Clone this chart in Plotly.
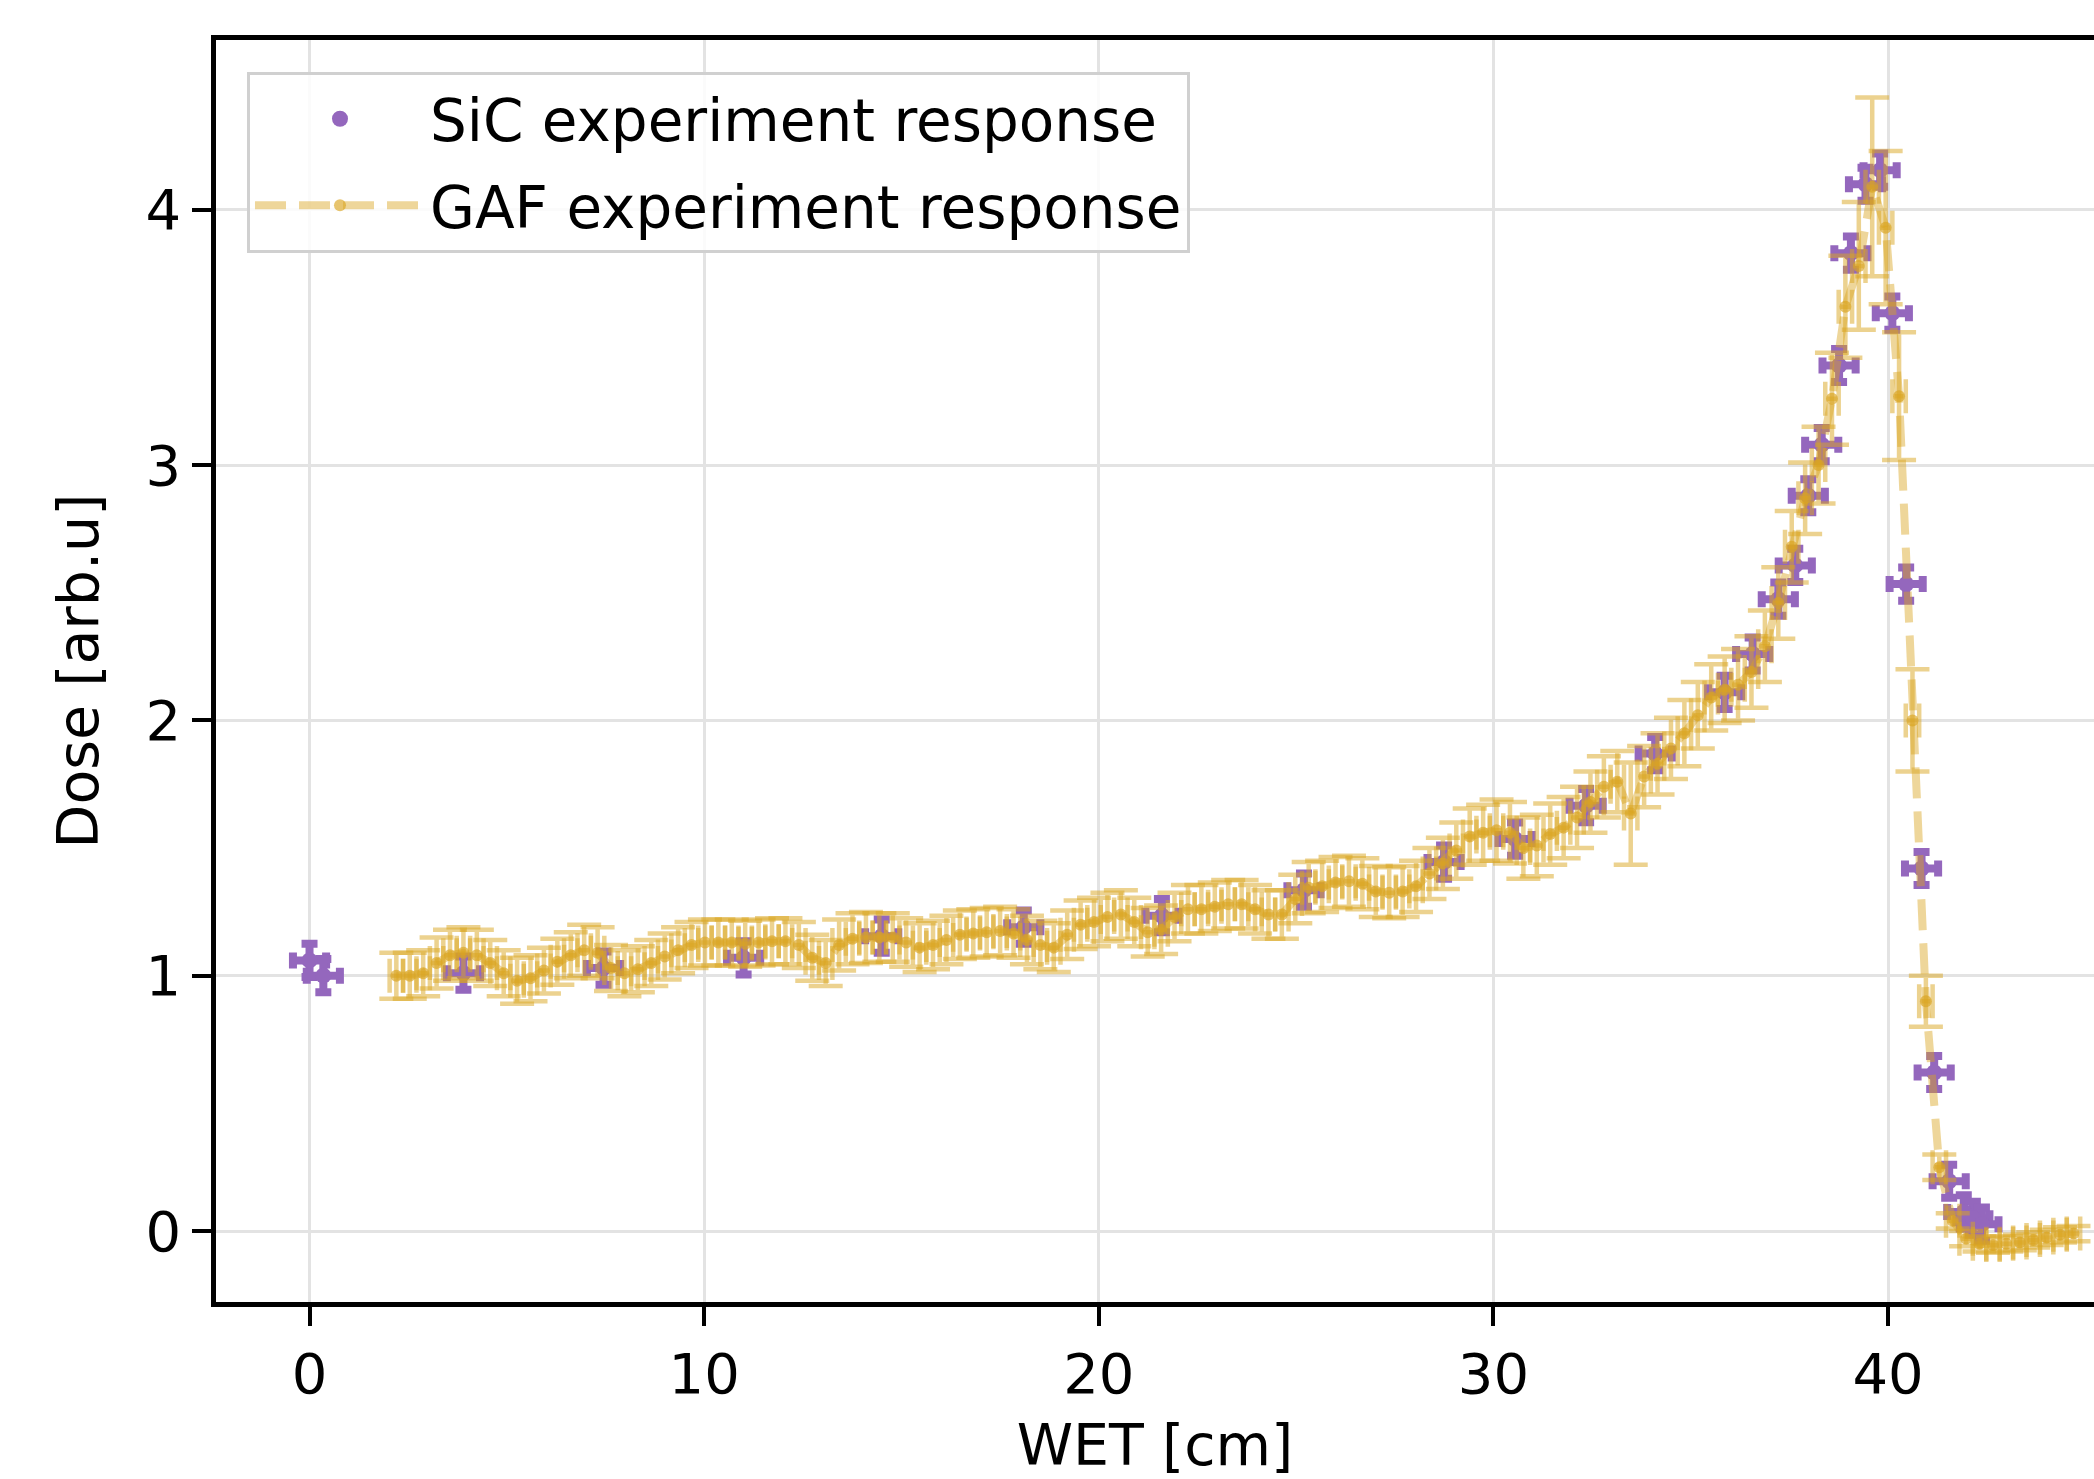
import plotly.graph_objects as go

# ---------------- data ----------------
sic_x = [0.0, 0.35, 3.9, 7.45, 11.0, 14.5, 18.1, 21.6, 25.2, 28.75, 30.55, 32.35,
         34.1, 35.86, 36.57, 37.22, 37.65, 37.98, 38.32, 38.76, 39.06, 39.43, 39.8,
         40.11, 40.46, 40.85, 41.17, 41.55, 41.92, 42.15, 42.38]
sic_y = [1.06, 1.00, 1.01, 1.03, 1.07, 1.155, 1.19, 1.235, 1.335, 1.445, 1.535, 1.666,
         1.87, 2.11, 2.26, 2.475, 2.607, 2.88, 3.08, 3.39, 3.83, 4.10, 4.155,
         3.595, 2.534, 1.42, 0.621, 0.195, 0.075, 0.05, 0.027]
sic_xerr = [0.42] * len(sic_x)
sic_yerr = [0.065] * len(sic_x)

gaf_x = [2.20, 2.54, 2.88, 3.22, 3.56, 3.90, 4.24, 4.58, 4.92, 5.26, 5.60, 5.94, 6.28,
         6.62, 6.96, 7.30, 7.64, 7.98, 8.32, 8.66, 9.00, 9.34, 9.68, 10.02, 10.36,
         10.70, 11.04, 11.38, 11.72, 12.06, 12.40, 12.74, 13.08, 13.42, 13.76, 14.10,
         14.44, 14.78, 15.12, 15.46, 15.80, 16.14, 16.48, 16.82, 17.16, 17.50, 17.84,
         18.18, 18.52, 18.86, 19.20, 19.54, 19.88, 20.22, 20.56, 20.90, 21.24, 21.58,
         21.92, 22.26, 22.60, 22.94, 23.28, 23.62, 23.96, 24.30, 24.64, 24.98, 25.32,
         25.66, 26.00, 26.34, 26.68, 27.02, 27.36, 27.70, 28.04, 28.38, 28.72, 29.06,
         29.40, 29.74, 30.08, 30.42, 30.76, 31.10, 31.44, 31.78, 32.12, 32.46, 32.80,
         33.14, 33.48, 33.82, 34.16, 34.50, 34.84, 35.18, 35.52, 35.86, 36.20, 36.54,
         36.88, 37.22, 37.56, 37.90, 38.24, 38.58, 38.92, 39.26, 39.60, 39.94, 40.28,
         40.62, 40.96, 41.30, 41.64, 41.98, 42.32, 42.66, 43.00, 43.34, 43.68, 44.02,
         44.36, 44.70]
gaf_y = [1.00, 1.00, 1.01, 1.05, 1.08, 1.09, 1.08, 1.05, 1.01, 0.98, 0.99, 1.02, 1.055,
         1.08, 1.10, 1.09, 1.03, 1.01, 1.025, 1.05, 1.075, 1.10, 1.12, 1.13, 1.13,
         1.13, 1.125, 1.13, 1.135, 1.135, 1.12, 1.07, 1.05, 1.12, 1.145, 1.15,
         1.15, 1.15, 1.13, 1.11, 1.12, 1.14, 1.16, 1.165, 1.17, 1.175, 1.165,
         1.14, 1.12, 1.11, 1.16, 1.20, 1.21, 1.23, 1.24, 1.21, 1.17, 1.18,
         1.23, 1.26, 1.26, 1.27, 1.28, 1.28, 1.26, 1.24, 1.24, 1.30, 1.345,
         1.35, 1.365, 1.37, 1.36, 1.33, 1.325, 1.33, 1.35, 1.40, 1.44, 1.49,
         1.545, 1.56, 1.57, 1.56, 1.50, 1.51, 1.555, 1.58, 1.62, 1.68, 1.74,
         1.76, 1.635, 1.78, 1.83, 1.89, 1.95, 2.02, 2.09, 2.12, 2.14, 2.19,
         2.29, 2.46, 2.68, 2.87, 3.00, 3.26, 3.62, 3.78, 4.09, 3.93, 3.27,
         2.00, 0.90, 0.25, 0.04, -0.03, -0.05, -0.055, -0.05, -0.045, -0.035, -0.025,
         -0.015, -0.01]
gaf_yerr = [0.09, 0.09, 0.09, 0.10, 0.10, 0.10, 0.10, 0.09, 0.09, 0.09, 0.09, 0.09, 0.09,
            0.09, 0.10, 0.10, 0.09, 0.09, 0.09, 0.09, 0.09, 0.09, 0.09, 0.09, 0.09,
            0.09, 0.09, 0.09, 0.09, 0.09, 0.09, 0.09, 0.09, 0.10, 0.10, 0.10,
            0.095, 0.095, 0.095, 0.095, 0.095, 0.095, 0.095, 0.095, 0.095, 0.095, 0.095,
            0.095, 0.095, 0.095, 0.095, 0.095, 0.095, 0.095, 0.095, 0.095, 0.095, 0.095,
            0.095, 0.095, 0.095, 0.095, 0.095, 0.095, 0.095, 0.095, 0.095, 0.095, 0.10,
            0.10, 0.10, 0.10, 0.10, 0.10, 0.10, 0.10, 0.10, 0.10, 0.10, 0.11,
            0.11, 0.11, 0.12, 0.12, 0.12, 0.12, 0.12, 0.12, 0.12, 0.12, 0.12,
            0.12, 0.20, 0.12, 0.12, 0.12, 0.13, 0.13, 0.13, 0.13, 0.14, 0.14,
            0.14, 0.14, 0.14, 0.14, 0.15, 0.18, 0.20, 0.25, 0.35, 0.30, 0.25,
            0.20, 0.10, 0.05, 0.03, 0.03, 0.03, 0.03, 0.03, 0.03, 0.03, 0.03,
            0.03, 0.03]
gaf_xerr = 0.17

x_ticks = [0, 10, 20, 30, 40]
y_ticks = [0, 1, 2, 3, 4]

# ---------------- styles ----------------
PURPLE = "#9467bd"
GOLD_BAR = "rgba(218,165,32,0.5)"
GOLD_LINE = "rgba(218,165,32,0.45)"
GOLD_MARK = "rgba(218,165,32,0.65)"
FONT = "DejaVu Sans"

fig = go.Figure()

fig.add_trace(go.Scatter(
    x=sic_x, y=sic_y, mode="markers", name="SiC experiment response",
    legendgroup="sic",
    marker=dict(color=PURPLE, size=16, line=dict(width=0)),
    error_x=dict(type="data", array=sic_xerr, color=PURPLE, thickness=8, width=8),
    error_y=dict(type="data", array=sic_yerr, color=PURPLE, thickness=8, width=8),
))

fig.add_trace(go.Scatter(
    x=gaf_x, y=gaf_y, mode="lines+markers", name="GAF experiment response",
    legendgroup="gaf",
    line=dict(color=GOLD_LINE, width=8, dash="31px,13px"),
    marker=dict(color=GOLD_MARK, size=12, line=dict(width=0)),
    error_x=dict(type="constant", value=gaf_xerr, color=GOLD_BAR, thickness=4.5, width=17),
    error_y=dict(type="data", array=gaf_yerr, color=GOLD_BAR, thickness=4.5, width=17),
))

fig.update_layout(
    width=2094, height=1479,
    margin=dict(l=216, r=0, t=40, b=177),
    paper_bgcolor="white", plot_bgcolor="white",
    font=dict(family=FONT, size=56, color="black"),
    showlegend=True,
    legend=dict(
        x=0.0165, y=0.975, xanchor="left", yanchor="top",
        bgcolor="rgba(255,255,255,0.85)", bordercolor="#d0d0d0", borderwidth=3,
        font=dict(family=FONT, size=58, color="black"),
        tracegroupgap=8, itemwidth=170,
    ),
)

fig.update_xaxes(
    range=[-2.37, 45.22], tickvals=x_ticks, ticktext=[str(v) for v in x_ticks],
    showgrid=True, gridcolor="#e3e3e3", gridwidth=3,
    zeroline=False,
    showline=True, linecolor="black", linewidth=4.5, mirror=True,
    ticks="outside", ticklen=19, tickwidth=4, tickcolor="black",
    title=dict(text="WET [cm]", font=dict(family=FONT, size=57), standoff=22),
)
fig.update_yaxes(
    range=[-0.278, 4.665], tickvals=y_ticks, ticktext=[str(v) for v in y_ticks],
    showgrid=True, gridcolor="#e3e3e3", gridwidth=3,
    zeroline=False,
    showline=True, linecolor="black", linewidth=4.5,
    ticks="outside", ticklen=19, tickwidth=4, tickcolor="black",
    title=dict(text="Dose [arb.u]", font=dict(family=FONT, size=57), standoff=30),
)

fig.write_html("out.html")
